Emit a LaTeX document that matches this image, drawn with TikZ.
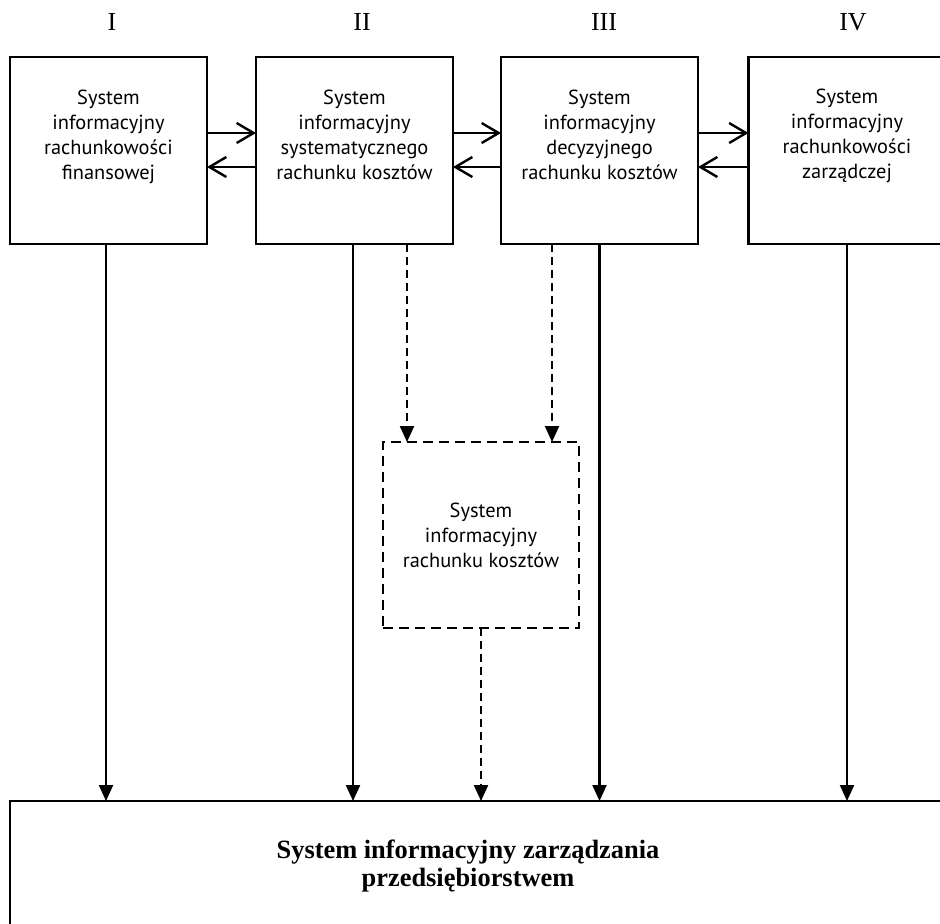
\documentclass[tikz,border=0pt]{standalone}
\usepackage{fontspec}
\setmainfont{Liberation Serif}
\newfontfamily\boxfont{PT Sans}
\usetikzlibrary{arrows.meta}
\tikzset{
  box/.style={draw, line width=1.4pt, minimum width=98.5pt, minimum height=93.5pt, inner sep=0pt, outer sep=0pt},
  dbox/.style={draw, line width=1.2pt, dash pattern=on 5pt off 3pt, minimum width=98pt, minimum height=93pt, inner sep=0pt, outer sep=0pt},
  bigbox/.style={draw, line width=1.4pt, minimum width=475pt, minimum height=80pt, inner sep=0pt, outer sep=0pt},
  txt/.style={align=center, inner sep=0pt, font=\boxfont\fontsize{10.2}{12.5}\selectfont},
  numlab/.style={inner sep=0pt, font=\fontsize{13}{14}\selectfont},
  bigtxt/.style={align=center, inner sep=0pt, font=\bfseries\fontsize{13.2}{14}\selectfont},
  harrow/.style={line width=1.2pt, -{Straight Barb[length=8.5pt,width=10pt]}},
  varrow/.style={line width=1.1pt, -{Triangle[length=8pt,width=7pt]}},
  dvarrow/.style={varrow, dash pattern=on 4pt off 2.5pt},
}
\begin{document}
\begin{tikzpicture}[x=0.5pt,y=-0.5pt]
\useasboundingbox (0,0) rectangle (940,923);
% column labels
\node[numlab] (l1) at (112,22) {I};
\node[numlab] (l2) at (362,22) {II};
\node[numlab] (l3) at (604,22) {III};
\node[numlab] (l4) at (853,22) {IV};
% top boxes
\node[box] (b1) at (108.5,150.5) {};
\node[box] (b2) at (354.5,150.5) {};
\node[box] (b3) at (599.5,150.5) {};
\node[box] (b4) at (847,150.5) {};
\node[txt] (t1) at (108.5,137) {System\\informacyjny\\rachunkowości\\finansowej};
\node[txt] (t2) at (354.5,135) {System\\informacyjny\\systematycznego\\rachunku kosztów};
\node[txt] (t3) at (599.5,135) {System\\informacyjny\\decyzyjnego\\rachunku kosztów};
\node[txt] (t4) at (847,136) {System\\informacyjny\\rachunkowości\\zarządczej};
% dashed box
\node[dbox] (db) at (481,535) {};
\node[txt] (td) at (481,535) {System\\informacyjny\\rachunku kosztów};
% bottom box (cut off at right and bottom)
\node[bigbox] (bot) at (485,881) {};
\node[bigtxt] (tb) at (468,866) {System informacyjny zarządzania\\przedsiębiorstwem};
% horizontal arrows
\foreach \a/\b in {b1/b2,b2/b3,b3/b4}{
  \draw[harrow] ([yshift=8.75pt]\a.east) -- ([yshift=8.75pt]\b.west);
  \draw[harrow] ([yshift=-8.25pt]\b.west) -- ([yshift=-8.25pt]\a.east);
}
% vertical solid arrows
\coordinate (s1) at ([xshift=-1.25pt]b1.south);
\draw[varrow] (s1) -- (s1 |- bot.north);
\coordinate (s2) at ([xshift=-0.75pt]b2.south);
\draw[varrow] (s2) -- (s2 |- bot.north);
\draw[varrow] (b3.south) -- (b3.south |- bot.north);
\draw[varrow] (b4.south) -- (b4.south |- bot.north);
% dashed arrows
\coordinate (d2) at ([xshift=26.25pt]b2.south);
\coordinate (d3) at ([xshift=-23.75pt]b3.south);
\draw[dvarrow] (d2) -- (d2 |- db.north);
\draw[dvarrow] (d3) -- (d3 |- db.north);
\draw[dvarrow] (db.south) -- (db.south |- bot.north);
\end{tikzpicture}
\end{document}
